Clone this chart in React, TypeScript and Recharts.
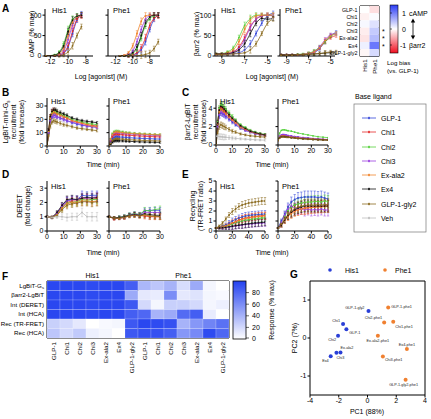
import React from 'react';
import { LineChart, Line, XAxis, YAxis, ErrorBar, ScatterChart, Scatter, ReferenceLine } from 'recharts';

const FONT = '"Liberation Sans", Arial, Helvetica, sans-serif';

const LIGANDS = ['GLP-1', 'Chi1', 'Chi2', 'Chi3', 'Ex-ala2', 'Ex4', 'GLP-1-gly2'];
const LEGEND_ITEMS = ['GLP-1', 'Chi1', 'Chi2', 'Chi3', 'Ex-ala2', 'Ex4', 'GLP-1-gly2', 'Veh'];
const COLORS: Record<string, string> = {
  'GLP-1': '#3446d9',
  'Chi1': '#e52a2a',
  'Chi2': '#55d13b',
  'Chi3': '#9a3ee0',
  'Ex-ala2': '#f0852d',
  'Ex4': '#111111',
  'GLP-1-gly2': '#8b6b1f',
  'Veh': '#bdbdbd',
};

// ---------- Panel A: concentration-response ----------
const campLogHis1 = [-12.5, -11.5, -11, -10.5, -10, -9.5, -9, -8.5];
const campHis1: Record<string, number[]> = {
  'GLP-1': [0, 0, 2, 6, 22, 55, 88, 103],
  'Chi1': [0, 0, 2, 8, 25, 60, 90, 98],
  'Chi2': [0, 3, 10, 30, 65, 90, 98, 100],
  'Chi3': [0, 1, 4, 12, 40, 75, 95, 100],
  'Ex-ala2': [0, 1, 5, 18, 50, 82, 95, 100],
  'Ex4': [0, 2, 8, 25, 60, 88, 97, 100],
  'GLP-1-gly2': [0, 0, 0, 3, 10, 25, 50, 72],
};
const campErrHis1 = [1, 1, 3, 5, 8, 8, 6, 6];

const campLogPhe1 = [-11.5, -11, -10.5, -10, -9.5, -9, -8.5, -8, -7.5, -7];
const campPhe1: Record<string, number[]> = {
  'GLP-1': [0, 0, 0, 2, 6, 15, 35, 65, 90, 100],
  'Chi1': [0, 0, 0, 3, 8, 20, 45, 75, 92, 98],
  'Chi2': [0, 0, 2, 6, 18, 45, 75, 92, 98, 100],
  'Chi3': [0, 1, 4, 12, 35, 65, 90, 98, 100, 100],
  'Ex-ala2': [0, 2, 8, 25, 55, 85, 98, 100, 100, 100],
  'Ex4': [0, 0, 2, 8, 22, 50, 80, 95, 100, 100],
  'GLP-1-gly2': [0, 0, 0, 0, 0, 2, 4, 8, 18, 35],
};
const campErrPhe1 = [1, 1, 3, 5, 7, 8, 8, 6, 6, 6];

const barrLog = [-9.5, -9, -8.5, -8, -7.5, -7, -6.5, -6, -5.5, -5, -4.5];
const barrHis1: Record<string, number[]> = {
  'GLP-1': [3, 4, 5, 6, 8, 15, 30, 55, 80, 98, 105],
  'Chi1': [4, 5, 6, 10, 22, 45, 72, 90, 98, 100, 100],
  'Chi2': [5, 6, 10, 20, 45, 75, 92, 100, 100, 100, 100],
  'Chi3': [4, 5, 6, 9, 18, 40, 70, 90, 98, 100, 98],
  'Ex-ala2': [5, 5, 8, 15, 35, 65, 88, 98, 100, 100, 100],
  'Ex4': [5, 5, 6, 8, 15, 30, 55, 80, 92, 90, 92],
  'GLP-1-gly2': [3, 3, 4, 5, 6, 8, 15, 30, 55, 80, 90],
};
const barrErrHis1 = [2, 2, 3, 4, 6, 8, 8, 6, 5, 5, 5];
const barrPhe1: Record<string, number[]> = {
  'GLP-1': [3, 3, 3, 3, 4, 5, 8, 18, 35, 50, 58],
  'Chi1': [3, 3, 3, 3, 4, 6, 10, 20, 35, 45, 50],
  'Chi2': [3, 3, 3, 4, 5, 7, 12, 22, 35, 48, 55],
  'Chi3': [3, 3, 3, 3, 4, 6, 10, 22, 40, 52, 55],
  'Ex-ala2': [3, 3, 3, 3, 4, 6, 10, 20, 38, 50, 55],
  'Ex4': [3, 3, 3, 3, 3, 4, 5, 6, 7, 8, 8],
  'GLP-1-gly2': [2, 2, 2, 3, 3, 4, 5, 6, 8, 10, 10],
};
const barrErrPhe1 = [1, 1, 1, 1, 2, 3, 4, 4, 5, 4, 4];

// Panel A heatmap: log bias vs GLP-1 (His1 column, Phe1 column)
const biasHis1 = [0, -0.08, 0.05, -0.1, -0.15, 0.1, -0.05];
const biasPhe1 = [-0.18, 0.03, 0.2, 0.35, 0.45, 0.9, 0.25];
const biasStars = ['', '', '', '*', '*', '*', ''];

// ---------- Panels B, C: recruitment kinetics ----------
const timeBC = [0, 1, 2, 3, 4, 5, 6, 8, 10, 12, 15, 18, 21, 24, 27, 30];
const lgbitHis1: Record<string, number[]> = {
  'GLP-1': [0, 10, 19, 22, 23, 23, 22, 21, 20, 19, 17.5, 16.5, 15.5, 15, 14.5, 14],
  'Chi1': [0, 12, 22, 26, 27, 26, 25, 24, 22, 21, 19, 18, 17, 16, 15.5, 15],
  'Chi2': [0, 11, 21, 25, 26, 26, 25, 24, 23, 22, 20, 19, 18, 17, 16.5, 16],
  'Chi3': [0, 10, 19, 22, 23, 23, 22, 21, 20, 19, 18, 17, 16, 15, 14.5, 14],
  'Ex-ala2': [0, 11, 21, 24.5, 25.5, 25, 24, 23, 22, 21, 19, 18, 17, 16, 15, 14.5],
  'Ex4': [0, 12, 22, 26, 27, 27, 26, 25, 24, 23, 21, 20, 19, 18.5, 18, 17.5],
  'GLP-1-gly2': [0, 8, 15, 18, 19, 18.5, 18, 17, 16, 15.5, 14.5, 13.5, 13, 12.5, 12, 11.5],
};
const lgbitErrHis1 = [0, 1, 1.5, 1.5, 1.5, 1.5, 1.5, 1.3, 1.2, 1.1, 1, 1, 1, 0.9, 0.9, 0.9];
const lgbitPhe1: Record<string, number[]> = {
  'GLP-1': [0, 3, 5.5, 6.5, 7, 7, 6.8, 6.6, 6.4, 6.2, 6, 5.8, 5.6, 5.5, 5.3, 5.2],
  'Chi1': [0, 4, 7, 8.5, 9, 9, 8.8, 8.5, 8.2, 8, 7.8, 7.5, 7.3, 7.1, 7, 6.8],
  'Chi2': [0, 5, 9, 10.5, 11, 11, 10.8, 10.5, 10, 9.8, 9.5, 9.2, 9, 8.8, 8.6, 8.5],
  'Chi3': [0, 4.5, 8, 9.5, 10, 10, 9.8, 9.5, 9.2, 9, 8.8, 8.5, 8.3, 8.1, 8, 7.8],
  'Ex-ala2': [0, 5, 8.5, 10, 10.5, 10.5, 10.3, 10, 9.7, 9.5, 9.2, 9, 8.8, 8.6, 8.4, 8.3],
  'Ex4': [0, 1.5, 3, 3.8, 4, 4, 3.9, 3.8, 3.6, 3.5, 3.3, 3.1, 3, 2.9, 2.8, 2.7],
  'GLP-1-gly2': [0, 2, 4, 5, 5.5, 5.5, 5.3, 5.1, 4.9, 4.7, 4.5, 4.3, 4.1, 4, 3.9, 3.8],
};
const lgbitErrPhe1 = [0, 0.6, 0.9, 0.9, 0.9, 0.9, 0.9, 0.8, 0.8, 0.8, 0.7, 0.7, 0.7, 0.7, 0.7, 0.7];

const barrLgbitHis1: Record<string, number[]> = {
  'GLP-1': [0, 2, 3.2, 3.5, 3.4, 3.3, 3.1, 2.8, 2.5, 2.2, 1.8, 1.6, 1.4, 1.25, 1.15, 1.05],
  'Chi1': [0, 2.4, 3.8, 4.1, 4, 3.8, 3.6, 3.2, 2.8, 2.5, 2, 1.7, 1.5, 1.3, 1.2, 1.1],
  'Chi2': [0, 2.5, 4, 4.4, 4.3, 4.1, 3.9, 3.5, 3.1, 2.7, 2.2, 1.9, 1.6, 1.4, 1.25, 1.15],
  'Chi3': [0, 2, 3.3, 3.6, 3.5, 3.4, 3.2, 2.9, 2.6, 2.3, 1.9, 1.6, 1.4, 1.25, 1.15, 1.05],
  'Ex-ala2': [0, 2.3, 3.6, 3.9, 3.8, 3.6, 3.4, 3, 2.7, 2.4, 1.9, 1.7, 1.45, 1.3, 1.15, 1.05],
  'Ex4': [0, 2.4, 3.8, 4.2, 4.1, 3.9, 3.7, 3.3, 2.9, 2.6, 2.1, 1.8, 1.5, 1.35, 1.2, 1.1],
  'GLP-1-gly2': [0, 1.3, 2, 2.2, 2.1, 2, 1.9, 1.7, 1.5, 1.4, 1.2, 1.1, 1, 0.95, 0.9, 0.85],
  'Veh': [0.95, 0.95, 0.92, 0.9, 0.88, 0.86, 0.84, 0.8, 0.76, 0.72, 0.67, 0.63, 0.6, 0.57, 0.55, 0.52],
};
const barrLgbitErrHis1 = [0, 0.2, 0.3, 0.3, 0.3, 0.3, 0.25, 0.2, 0.2, 0.15, 0.12, 0.1, 0.1, 0.1, 0.1, 0.1];
const barrLgbitPhe1: Record<string, number[]> = {
  'GLP-1': [0.5, 0.9, 1.05, 1.1, 1.1, 1.05, 1, 0.95, 0.9, 0.85, 0.8, 0.75, 0.7, 0.65, 0.6, 0.58],
  'Chi1': [0.5, 0.85, 0.98, 1, 0.98, 0.95, 0.92, 0.88, 0.83, 0.79, 0.74, 0.7, 0.66, 0.62, 0.6, 0.57],
  'Chi2': [0.5, 1.3, 1.6, 1.65, 1.65, 1.6, 1.55, 1.5, 1.4, 1.3, 1.2, 1.1, 1, 0.9, 0.85, 0.8],
  'Chi3': [0.5, 0.95, 1.1, 1.15, 1.12, 1.08, 1.03, 0.98, 0.92, 0.87, 0.8, 0.75, 0.7, 0.66, 0.62, 0.6],
  'Ex-ala2': [0.5, 0.82, 0.95, 0.97, 0.95, 0.92, 0.9, 0.86, 0.82, 0.78, 0.73, 0.69, 0.65, 0.62, 0.59, 0.56],
  'Ex4': [0.5, 0.8, 0.9, 0.92, 0.9, 0.88, 0.85, 0.8, 0.76, 0.72, 0.68, 0.64, 0.6, 0.58, 0.55, 0.53],
  'GLP-1-gly2': [0.5, 0.75, 0.85, 0.88, 0.86, 0.84, 0.82, 0.78, 0.74, 0.7, 0.66, 0.62, 0.59, 0.56, 0.54, 0.52],
};

// ---------- Panels D, E: internalisation and recycling ----------
const timeD = [0, 3, 6, 9, 12, 15, 18, 21, 24, 27, 30];
const deretHis1: Record<string, number[]> = {
  'GLP-1': [1, 0.95, 1.2, 1.7, 2.1, 2.2, 2.2, 2.5, 2.45, 2.5, 2.5],
  'Chi1': [1, 0.95, 1.2, 1.65, 2, 2.1, 2.1, 2.25, 2.25, 2.2, 2.3],
  'Chi2': [1, 0.95, 1.15, 1.6, 1.95, 2, 2.05, 2.2, 2.15, 2.2, 2.2],
  'Chi3': [1, 0.95, 1.25, 1.75, 2.15, 2.2, 2.2, 2.35, 2.3, 2.35, 2.4],
  'Ex-ala2': [1, 0.95, 1.15, 1.6, 1.9, 2, 2, 2.1, 2.1, 2.05, 2.1],
  'Ex4': [1, 0.95, 1.3, 1.8, 2.2, 2.25, 2.2, 2.3, 2.35, 2.3, 2.35],
  'GLP-1-gly2': [1, 0.95, 1.1, 1.5, 1.8, 1.9, 1.95, 2.05, 2.05, 2, 2.05],
  'Veh': [1, 0.95, 1, 1, 0.95, 1, 1, 1.3, 1, 1, 1],
};
const deretErrHis1 = [0.05, 0.08, 0.12, 0.2, 0.25, 0.25, 0.25, 0.3, 0.3, 0.3, 0.3];
const deretPhe1: Record<string, number[]> = {
  'GLP-1': [1, 0.9, 0.95, 1, 1.15, 1.2, 1.15, 1.4, 1.45, 1.45, 1.45],
  'Chi1': [1, 0.85, 0.9, 0.95, 1.1, 1.15, 1.1, 1.05, 1, 1, 1],
  'Chi2': [1, 0.9, 0.95, 1, 1.15, 1.2, 1.15, 1.45, 1.4, 1.5, 1.55],
  'Chi3': [1, 0.9, 0.9, 0.95, 1.1, 1.15, 1.1, 1.3, 1.3, 1.3, 1.3],
  'Ex-ala2': [1, 0.9, 0.9, 0.95, 1.05, 1.1, 1.05, 1.1, 1.05, 1, 1],
  'Ex4': [1, 0.9, 0.95, 1, 1.1, 1.15, 1.1, 1.2, 1.15, 1.1, 1.1],
  'GLP-1-gly2': [1, 0.9, 0.9, 0.95, 1.05, 1.1, 1.05, 1.15, 1.05, 1.05, 1],
};
const deretErrPhe1 = [0.05, 0.1, 0.1, 0.12, 0.12, 0.15, 0.15, 0.2, 0.2, 0.2, 0.2];

const timeE = [0, 4, 8, 12, 16, 20, 24, 28, 32, 36, 40, 44, 48, 52, 56, 60];
const recycHis1: Record<string, number[]> = {
  'GLP-1': [0.3, 0.35, 0.45, 0.6, 0.8, 1, 1.15, 1.3, 1.4, 1.5, 1.55, 1.6, 1.62, 1.65, 1.68, 1.7],
  'Chi1': [0.3, 0.33, 0.4, 0.5, 0.65, 0.8, 0.95, 1.1, 1.2, 1.3, 1.35, 1.4, 1.45, 1.5, 1.52, 1.55],
  'Chi2': [0.3, 0.32, 0.38, 0.45, 0.55, 0.7, 0.82, 0.92, 1, 1.08, 1.12, 1.18, 1.22, 1.26, 1.3, 1.32],
  'Chi3': [0.3, 0.3, 0.32, 0.35, 0.4, 0.45, 0.5, 0.55, 0.6, 0.65, 0.7, 0.72, 0.75, 0.78, 0.8, 0.82],
  'Ex-ala2': [0.3, 0.33, 0.4, 0.5, 0.62, 0.78, 0.9, 1.05, 1.15, 1.25, 1.3, 1.35, 1.4, 1.45, 1.48, 1.5],
  'Ex4': [0.3, 0.3, 0.33, 0.37, 0.42, 0.48, 0.53, 0.58, 0.63, 0.68, 0.72, 0.76, 0.8, 0.82, 0.85, 0.88],
  'GLP-1-gly2': [0.3, 0.5, 0.8, 1.2, 1.6, 1.95, 2.2, 2.45, 2.6, 2.7, 2.8, 2.85, 2.9, 2.95, 3, 3],
};
const recycErrHis1 = [0.05, 0.1, 0.15, 0.2, 0.25, 0.3, 0.3, 0.3, 0.35, 0.35, 0.35, 0.35, 0.35, 0.35, 0.35, 0.35];
const recycPhe1: Record<string, number[]> = {
  'GLP-1': [0.3, 1, 1.7, 2.4, 2.9, 3.15, 3.3, 3.35, 3.4, 3.4, 3.4, 3.4, 3.35, 3.4, 3.3, 3.2],
  'Chi1': [0.3, 0.6, 1.1, 1.5, 1.85, 2.05, 2.15, 2.25, 2.3, 2.35, 2.4, 2.4, 2.45, 2.45, 2.5, 2.5],
  'Chi2': [0.3, 0.9, 1.5, 2.05, 2.4, 2.6, 2.7, 2.8, 2.85, 2.9, 2.9, 2.95, 2.95, 2.9, 3, 2.95],
  'Chi3': [0.3, 0.9, 1.6, 2.2, 2.5, 2.3, 2.2, 2.2, 2.1, 2.2, 2.1, 2.15, 2.1, 2.2, 2.1, 2.1],
  'Ex-ala2': [0.3, 0.6, 1.05, 1.45, 1.75, 1.95, 2.1, 2.2, 2.25, 2.3, 2.35, 2.4, 2.4, 2.4, 2.45, 2.45],
  'Ex4': [0.3, 0.6, 1.1, 1.55, 1.9, 2.1, 2.3, 2.4, 2.5, 2.5, 2.5, 2.5, 2.5, 2.5, 2.5, 2.5],
  'GLP-1-gly2': [0.3, 0.7, 1.2, 1.65, 2, 2.25, 2.4, 2.5, 2.55, 2.6, 2.6, 2.6, 2.65, 2.6, 2.65, 2.65],
};
const recycErrPhe1 = [0.05, 0.2, 0.3, 0.4, 0.5, 0.5, 0.55, 0.55, 0.6, 0.6, 0.6, 0.6, 0.6, 0.6, 0.6, 0.6];

// ---------- Panel F: response heatmap (% max) ----------
const fRowLabels = ['LgBiT-Gs', 'βarr2-LgBiT', 'Int (DERET)', 'Int (HCA)', 'Rec (TR-FRET)', 'Rec (HCA)'];
const fColLabels = [...LIGANDS, ...LIGANDS];
const fLgbitGs = [97, 97, 97, 95, 97, 97, 85, 38, 30, 40, 18, 45, 5, 0];
const fBarr2 = [97, 97, 97, 95, 97, 97, 45, 12, 10, 60, 12, 15, 5, 3];
const fIntDeret = [97, 97, 97, 95, 97, 97, 88, 20, 5, 25, 25, 20, 5, 8];
const fIntHca = [97, 97, 97, 95, 97, 97, 85, 80, 40, 45, 78, 85, 10, 0];
const fRecTrfret = [25, 20, 12, 0, 3, 5, 88, 97, 95, 92, 40, 55, 65, 75];
const fRecHca = [30, 20, 28, 8, 5, 0, 88, 92, 92, 85, 55, 62, 95, 80];
const fTicks = [80, 60, 40, 20, 0];

// ---------- Panel G: PCA ----------
const pcaHis1Names = ['GLP-1', 'Chi1', 'Chi2', 'Chi3', 'Ex-ala2', 'Ex4', 'GLP-1-gly2'];
const pcaHis1X = [-1.47, -1.7, -2.05, -2.16, -1.88, -2.56, 0.07];
const pcaHis1Y = [0.23, 0.37, 0.06, -0.39, -0.38, -0.48, 0.71];
const pcaPhe1Names = ['GLP-1-phe1', 'Chi1-phe1', 'Chi2-phe1', 'Chi3-phe1', 'Ex-ala2-phe1', 'Ex4-phe1', 'GLP-1-gly2-phe1'];
const pcaPhe1X = [1.44, 1.79, 1.16, 1.07, 0.72, 2.74, 2.65];
const pcaPhe1Y = [0.8, 0.43, 0.41, -0.49, 0.06, -0.29, -1.1];

// label placement (style only)
const PCA_LABEL_POS: Record<string, [number, number, 'start' | 'end' | 'middle']> = {
  'GLP-1': [3, 5, 'start'],
  'Chi1': [-3, -2, 'end'],
  'Chi2': [-2, 5, 'end'],
  'Chi3': [0, 6, 'start'],
  'Ex-ala2': [0, -3, 'start'],
  'Ex4': [-2, 6, 'end'],
  'GLP-1-gly2': [-4, -2, 'end'],
  'GLP-1-phe1': [3, 0, 'start'],
  'Chi1-phe1': [2, 6, 'start'],
  'Chi2-phe1': [-2, -3, 'end'],
  'Chi3-phe1': [2, 4, 'start'],
  'Ex-ala2-phe1': [0, 6, 'middle'],
  'Ex4-phe1': [0, -3, 'middle'],
  'GLP-1-gly2-phe1': [-2, 6, 'middle'],
};

const HEAT_BLUE = [35, 65, 240];
function heatColor(v: number) {
  const t = Math.max(0, Math.min(1, v / 100));
  const r = Math.round(255 + (HEAT_BLUE[0] - 255) * t);
  const g = Math.round(255 + (HEAT_BLUE[1] - 255) * t);
  const b = Math.round(255 + (HEAT_BLUE[2] - 255) * t);
  return `rgb(${r},${g},${b})`;
}
function biasColor(v: number) {
  const t = Math.max(-1, Math.min(1, v / 1.3));
  if (t >= 0) {
    return `rgb(${Math.round(255 - 215 * t)},${Math.round(255 - 195 * t)},${Math.round(255 - 5 * t)})`;
  }
  const s = -t;
  return `rgb(${Math.round(255 - 15 * s)},${Math.round(255 - 235 * s)},${Math.round(255 - 225 * s)})`;
}

const tickStyle = { fontSize: 7, fill: '#000', fontFamily: FONT };

type PanelProps = {
  left: number; top: number; w: number; h: number;
  x: number[]; series: Record<string, number[]>; err?: number[];
  xDomain: [number, number]; xTicks: number[];
  yDomain: [number, number]; yTicks: number[];
  yLabels?: boolean; curve?: 'monotone' | 'linear';
};

function CurvePanel(p: PanelProps) {
  const YW = 22, XH = 14, MT = 4, MR = 5;
  const keys = Object.keys(p.series);
  const data = p.x.map((xv, i) => {
    const r: any = { x: xv };
    keys.forEach((k) => { r[k] = p.series[k][i]; });
    if (p.err) r.err = p.err[i];
    return r;
  });
  return (
    <div style={{ position: 'absolute', left: p.left - YW, top: p.top - MT }}>
      <LineChart width={p.w + YW + MR} height={p.h + MT + XH} data={data} margin={{ top: MT, right: MR, left: 0, bottom: 0 }}>
        <XAxis dataKey="x" type="number" domain={p.xDomain} ticks={p.xTicks} allowDataOverflow height={XH}
          stroke="#000" tickSize={2.5} tickMargin={1} tick={tickStyle} interval={0} />
        <YAxis type="number" domain={p.yDomain} ticks={p.yTicks} allowDataOverflow width={YW}
          stroke="#000" tickSize={2.5} tickMargin={1} tick={tickStyle} interval={0}
          tickFormatter={p.yLabels === false ? () => '' : undefined} />
        {keys.map((k) => (
          <Line key={k} dataKey={k} type={p.curve || 'linear'} stroke={COLORS[k]} strokeWidth={0.8}
            dot={{ r: 0.9, fill: COLORS[k], stroke: COLORS[k], strokeWidth: 0 }} isAnimationActive={false}>
            {p.err ? <ErrorBar dataKey="err" width={1.2} stroke={COLORS[k]} strokeWidth={0.5} direction="y" /> : null}
          </Line>
        ))}
      </LineChart>
    </div>
  );
}

type HeatProps = {
  left: number; top: number; w: number; h: number;
  rows: number[][]; color: (v: number) => string; grid: string;
  splitX?: number; splitY?: number;
};
function HeatGrid(p: HeatProps) {
  const M = 2;
  const nRows = p.rows.length;
  const nCols = p.rows[0].length;
  const cw = p.w / nCols, ch = p.h / nRows;
  const cells: any[] = [];
  p.rows.forEach((row, r) => row.forEach((v, c) => cells.push({ c: c + 0.5, r: r + 0.5, v })));
  const shape = (s: any) => (
    <rect x={s.cx - cw / 2} y={s.cy - ch / 2} width={cw} height={ch} fill={p.color(s.payload.v)} stroke={p.grid} strokeWidth={0.5} />
  );
  return (
    <div style={{ position: 'absolute', left: p.left - M, top: p.top - M }}>
      <ScatterChart width={p.w + 2 * M} height={p.h + 2 * M} margin={{ top: M, right: M, bottom: M, left: M }}>
        <XAxis type="number" dataKey="c" domain={[0, nCols]} hide />
        <YAxis type="number" dataKey="r" domain={[0, nRows]} reversed hide />
        <Scatter data={cells} shape={shape} isAnimationActive={false} />
        <ReferenceLine x={0} stroke="#000" strokeWidth={1} />
        <ReferenceLine x={nCols} stroke="#000" strokeWidth={1} />
        <ReferenceLine y={0} stroke="#000" strokeWidth={1} />
        <ReferenceLine y={nRows} stroke="#000" strokeWidth={1} />
        {p.splitX ? <ReferenceLine x={p.splitX} stroke="#000" strokeWidth={1.3} /> : null}
        {p.splitY ? <ReferenceLine y={p.splitY} stroke="#000" strokeWidth={1.3} /> : null}
      </ScatterChart>
    </div>
  );
}

function PcaPanel() {
  const left = 310, top = 281, w = 115, h = 114;
  const YW = 16, XH = 14, MT = 2, MR = 2;
  const his = pcaHis1Names.map((n, i) => ({ x: pcaHis1X[i], y: pcaHis1Y[i], name: n }));
  const phe = pcaPhe1Names.map((n, i) => ({ x: pcaPhe1X[i], y: pcaPhe1Y[i], name: n }));
  const mk = (color: string) => (s: any) => {
    const pos = PCA_LABEL_POS[s.payload.name] || [3, 0, 'start'];
    return (
      <g>
        <circle cx={s.cx} cy={s.cy} r={2} fill={color} />
        <text x={s.cx + pos[0]} y={s.cy + pos[1]} fontSize={3.8} fontFamily={FONT} textAnchor={pos[2]} fill="#222">{s.payload.name}</text>
      </g>
    );
  };
  return (
    <div style={{ position: 'absolute', left: left - YW, top: top - MT }}>
      <ScatterChart width={w + YW + MR} height={h + MT + XH} margin={{ top: MT, right: MR, left: 0, bottom: 0 }}>
        <XAxis type="number" dataKey="x" domain={[-4, 4]} ticks={[-4, -2, 0, 2, 4]} allowDataOverflow height={XH}
          stroke="#000" tickSize={2.5} tickMargin={1} tick={tickStyle} interval={0} />
        <YAxis type="number" dataKey="y" domain={[-1.5, 1.5]} ticks={[-1, 0, 1]} allowDataOverflow width={YW}
          stroke="#000" tickSize={2.5} tickMargin={1} tick={tickStyle} interval={0} />
        <ReferenceLine y={1.5} stroke="#000" strokeWidth={1} />
        <ReferenceLine x={4} stroke="#000" strokeWidth={1} />
        <Scatter data={his} shape={mk('#2a3fd6')} isAnimationActive={false} />
        <Scatter data={phe} shape={mk('#f08030')} isAnimationActive={false} />
      </ScatterChart>
    </div>
  );
}

const T = (props: any) => <text fontFamily={FONT} fill="#000" {...props} />;

function Overlay() {
  const letter = { fontSize: 10, fontWeight: 'bold' as const };
  const title = { fontSize: 7.5 };
  const lab = { fontSize: 7 };
  const small = { fontSize: 6.2 };
  const tiny = { fontSize: 5.4 };
  const fTop = 281, fLeft = 47, fCw = 13, fCh = 9.5;
  const aTop = 6, aLeft = 360, aCw = 9.5, aCh = 7.2;
  const legendY = [118, 132, 147, 161, 175, 189, 204, 218];
  return (
    <svg width={431} height={419} style={{ position: 'absolute', left: 0, top: 0, pointerEvents: 'none' }}>
      <defs>
        <linearGradient id="biasGrad" x1="0" y1="0" x2="0" y2="1">
          <stop offset="0" stopColor="#2a3cf5" />
          <stop offset="0.5" stopColor="#ffffff" />
          <stop offset="1" stopColor="#f01020" />
        </linearGradient>
        <linearGradient id="respGrad" x1="0" y1="0" x2="0" y2="1">
          <stop offset="0" stopColor="rgb(35,65,240)" />
          <stop offset="1" stopColor="#ffffff" />
        </linearGradient>
      </defs>
      {/* panel letters */}
      <T x={2} y={12} {...letter}>A</T>
      <T x={2} y={96} {...letter}>B</T>
      <T x={182} y={96} {...letter}>C</T>
      <T x={2} y={178} {...letter}>D</T>
      <T x={182} y={178} {...letter}>E</T>
      <T x={2} y={280} {...letter}>F</T>
      <T x={290} y={278} {...letter}>G</T>

      {/* A titles */}
      <T x={52} y={13} {...title}>His1</T>
      <T x={113} y={13} {...title}>Phe1</T>
      <T x={221} y={13} {...title}>His1</T>
      <T x={285} y={13} {...title}>Phe1</T>
      <T x={101} y={79} textAnchor="middle" {...lab}>Log [agonist] (M)</T>
      <T x={272} y={79} textAnchor="middle" {...lab}>Log [agonist] (M)</T>
      <T transform="translate(34,34) rotate(-90)" textAnchor="middle" {...lab}>cAMP (% max)</T>
      <T transform="translate(199,34) rotate(-90)" textAnchor="middle" {...lab}>βarr2 (% max)</T>

      {/* A heatmap labels */}
      {LIGANDS.map((n, i) => (
        <T key={n} x={aLeft - 2.5} y={aTop + aCh * (i + 0.5) + 2} textAnchor="end" {...tiny}>{n}</T>
      ))}
      {biasStars.map((s, i) => s ? <T key={i} x={aLeft + 2 * aCw + 3} y={aTop + aCh * (i + 0.5) + 3} fontSize={7}>{s}</T> : null)}
      <T transform={`translate(${aLeft + aCw / 2 + 2.3},${aTop + 7 * aCh + 3}) rotate(-90)`} textAnchor="end" {...small}>His1</T>
      <T transform={`translate(${aLeft + aCw * 1.5 + 2.3},${aTop + 7 * aCh + 3}) rotate(-90)`} textAnchor="end" {...small}>Phe1</T>
      <rect x={390} y={5} width={8} height={48} fill="url(#biasGrad)" stroke="#000" strokeWidth={0.6} />
      <line x1={390} x2={392} y1={13} y2={13} stroke="#000" strokeWidth={0.6} />
      <line x1={390} x2={392} y1={29} y2={29} stroke="#000" strokeWidth={0.6} />
      <line x1={390} x2={392} y1={45} y2={45} stroke="#000" strokeWidth={0.6} />
      <T x={402} y={15.5} {...lab}>1</T>
      <T x={402} y={31.5} {...lab}>0</T>
      <T x={400} y={47.5} {...lab}>-1</T>
      <T x={409} y={15.5} {...lab}>cAMP</T>
      <T x={409} y={47.5} {...lab}>βarr2</T>
      <line x1={413} x2={413} y1={20} y2={38} stroke="#000" strokeWidth={0.8} />
      <path d="M410.8,22.5 L413,18.5 L415.2,22.5 Z" fill="#000" />
      <path d="M410.8,35.5 L413,39.5 L415.2,35.5 Z" fill="#000" />
      <T x={387} y={65} {...small}>Log bias</T>
      <T x={387} y={73} {...small}>(vs. GLP-1)</T>

      {/* B, C */}
      <T x={51} y={104} {...title}>His1</T>
      <T x={113} y={104} {...title}>Phe1</T>
      <T x={220} y={104} {...title}>His1</T>
      <T x={282} y={104} {...title}>Phe1</T>
      <T x={103} y={167} textAnchor="middle" {...lab}>Time (min)</T>
      <T x={272} y={167} textAnchor="middle" {...lab}>Time (min)</T>
      <T transform="translate(8,122) rotate(-90)" textAnchor="middle" {...lab}>LgBiT-mini-G<tspan fontSize={4.5} dy={1.5}>s</tspan></T>
      <T transform="translate(16,122) rotate(-90)" textAnchor="middle" {...lab}>recruitment</T>
      <T transform="translate(24,122) rotate(-90)" textAnchor="middle" {...lab}>(fold increase)</T>
      <T transform="translate(190,122) rotate(-90)" textAnchor="middle" {...lab}>βarr2-LgBiT</T>
      <T transform="translate(198,122) rotate(-90)" textAnchor="middle" {...lab}>recruitment</T>
      <T transform="translate(206,122) rotate(-90)" textAnchor="middle" {...lab}>(fold increase)</T>

      {/* legend */}
      <T x={355} y={99} {...lab}>Base ligand</T>
      <rect x={354} y={104} width={72} height={128} fill="none" stroke="#777" strokeWidth={0.7} />
      {LEGEND_ITEMS.map((n, i) => (
        <g key={n}>
          <line x1={362} x2={376} y1={legendY[i]} y2={legendY[i]} stroke={COLORS[n]} strokeWidth={0.8} />
          <line x1={369} x2={369} y1={legendY[i] - 1.5} y2={legendY[i] + 1.5} stroke={COLORS[n]} strokeWidth={0.5} />
          <circle cx={369} cy={legendY[i]} r={1} fill={COLORS[n]} />
          <T x={381} y={legendY[i] + 2.5} {...lab}>{n}</T>
        </g>
      ))}

      {/* D, E */}
      <T x={51} y={189} {...title}>His1</T>
      <T x={113} y={189} {...title}>Phe1</T>
      <T x={220} y={189} {...title}>His1</T>
      <T x={282} y={189} {...title}>Phe1</T>
      <T x={103} y={255} textAnchor="middle" {...lab}>Time (min)</T>
      <T x={272} y={255} textAnchor="middle" {...lab}>Time (min)</T>
      <T transform="translate(22,206) rotate(-90)" textAnchor="middle" {...lab}>DERET</T>
      <T transform="translate(30,206) rotate(-90)" textAnchor="middle" {...lab}>(fold change)</T>
      <T transform="translate(195,206) rotate(-90)" textAnchor="middle" {...lab}>Recycling</T>
      <T transform="translate(203,206) rotate(-90)" textAnchor="middle" {...lab}>(TR-FRET ratio)</T>

      {/* F labels */}
      <T x={fLeft + fCw * 3.5} y={278} textAnchor="middle" {...lab}>His1</T>
      <T x={fLeft + fCw * 10.5} y={278} textAnchor="middle" {...lab}>Phe1</T>
      {fRowLabels.map((n, i) => (
        <T key={n} x={fLeft - 3} y={fTop + fCh * (i + 0.5) + 2.2} textAnchor="end" {...small}>
          {n === 'LgBiT-Gs' ? (<>LgBiT-G<tspan fontSize={4.2} dy={1.4}>s</tspan></>) : n}
        </T>
      ))}
      {fColLabels.map((n, i) => (
        <T key={i} transform={`translate(${fLeft + fCw * (i + 0.5) + 2.2},${fTop + 6 * fCh + 4}) rotate(-90)`} textAnchor="end" {...small}>{n}</T>
      ))}
      <rect x={233} y={281} width={13} height={58} fill="url(#respGrad)" stroke="#000" strokeWidth={0.8} />
      {fTicks.map((t) => {
        const y = 339 - (t / 100) * 58 + (t === 0 ? -1 : 0);
        return (
          <g key={t}>
            <line x1={246} x2={249} y1={y} y2={y} stroke="#000" strokeWidth={0.6} />
            <T x={252} y={y + 2.5} {...lab}>{t}</T>
          </g>
        );
      })}
      <T transform="translate(274,310) rotate(-90)" textAnchor="middle" {...lab}>Response (% max)</T>

      {/* G */}
      <circle cx={330} cy={270} r={1.8} fill="#2a3fd6" />
      <T x={345} y={272.5} {...lab}>His1</T>
      <circle cx={385} cy={270} r={1.8} fill="#f08030" />
      <T x={395} y={272.5} {...lab}>Phe1</T>
      <T x={367} y={414} textAnchor="middle" {...lab}>PC1 (88%)</T>
      <T transform="translate(297,338) rotate(-90)" textAnchor="middle" {...lab}>PC2 (7%)</T>
    </svg>
  );
}

export default function App() {
  return (
    <div style={{ position: 'fixed', left: 0, top: 0, width: 431, height: 419, background: '#fff', overflow: 'hidden', fontFamily: FONT }}>
      {/* A */}
      <CurvePanel left={45} top={9} w={48} h={47} x={campLogHis1} series={campHis1} err={campErrHis1}
        xDomain={[-12.6, -7.2]} xTicks={[-12, -10, -8]} yDomain={[0, 115]} yTicks={[0, 50, 100]} curve="monotone" />
      <CurvePanel left={108} top={9} w={52} h={47} x={campLogPhe1} series={campPhe1} err={campErrPhe1}
        xDomain={[-12.9, -6.8]} xTicks={[-12, -10, -8]} yDomain={[0, 115]} yTicks={[0, 50, 100]} yLabels={false} curve="monotone" />
      <CurvePanel left={215} top={9} w={57} h={47} x={barrLog} series={barrHis1} err={barrErrHis1}
        xDomain={[-9.6, -4.6]} xTicks={[-9, -7, -5]} yDomain={[0, 115]} yTicks={[0, 50, 100]} curve="monotone" />
      <CurvePanel left={280} top={9} w={55} h={47} x={barrLog} series={barrPhe1} err={barrErrPhe1}
        xDomain={[-9.6, -4.6]} xTicks={[-9, -7, -5]} yDomain={[0, 115]} yTicks={[0, 50, 100]} yLabels={false} curve="monotone" />
      <HeatGrid left={360} top={6} w={19} h={50.4} rows={biasHis1.map((v, i) => [v, biasPhe1[i]])} color={biasColor} grid="rgba(255,255,255,0)" />

      {/* B */}
      <CurvePanel left={47} top={98} w={50} h={48} x={timeBC} series={lgbitHis1} err={lgbitErrHis1}
        xDomain={[0, 30]} xTicks={[0, 10, 20, 30]} yDomain={[0, 36]} yTicks={[0, 10, 20, 30]} />
      <CurvePanel left={109} top={98} w={51} h={48} x={timeBC} series={lgbitPhe1} err={lgbitErrPhe1}
        xDomain={[0, 30]} xTicks={[0, 10, 20, 30]} yDomain={[0, 36]} yTicks={[0, 10, 20, 30]} yLabels={false} />
      {/* C */}
      <CurvePanel left={216} top={99} w={49} h={46} x={timeBC} series={barrLgbitHis1} err={barrLgbitErrHis1}
        xDomain={[0, 30]} xTicks={[0, 10, 20, 30]} yDomain={[0, 5]} yTicks={[0, 2, 4]} />
      <CurvePanel left={278} top={99} w={50} h={46} x={timeBC} series={barrLgbitPhe1}
        xDomain={[0, 30]} xTicks={[0, 10, 20, 30]} yDomain={[0, 5]} yTicks={[0, 2, 4]} yLabels={false} />

      {/* D */}
      <CurvePanel left={47} top={181} w={50} h={50} x={timeD} series={deretHis1} err={deretErrHis1}
        xDomain={[0, 30]} xTicks={[0, 10, 20, 30]} yDomain={[0, 3.5]} yTicks={[0, 1, 2, 3]} />
      <CurvePanel left={109} top={181} w={51} h={50} x={timeD} series={deretPhe1} err={deretErrPhe1}
        xDomain={[0, 30]} xTicks={[0, 10, 20, 30]} yDomain={[0, 3.5]} yTicks={[0, 1, 2, 3]} yLabels={false} />
      {/* E */}
      <CurvePanel left={216} top={181} w={49} h={50} x={timeE} series={recycHis1} err={recycErrHis1}
        xDomain={[0, 60]} xTicks={[0, 20, 40, 60]} yDomain={[0, 5]} yTicks={[0, 1, 2, 3, 4, 5]} />
      <CurvePanel left={278} top={181} w={50} h={50} x={timeE} series={recycPhe1} err={recycErrPhe1}
        xDomain={[0, 60]} xTicks={[0, 20, 40, 60]} yDomain={[0, 5]} yTicks={[0, 1, 2, 3, 4, 5]} yLabels={false} />

      {/* F */}
      <HeatGrid left={47} top={281} w={182} h={57} rows={[fLgbitGs, fBarr2, fIntDeret, fIntHca, fRecTrfret, fRecHca]}
        color={heatColor} grid="rgba(255,255,255,0.35)" splitX={7} splitY={4} />

      {/* G */}
      <PcaPanel />

      <Overlay />
    </div>
  );
}
